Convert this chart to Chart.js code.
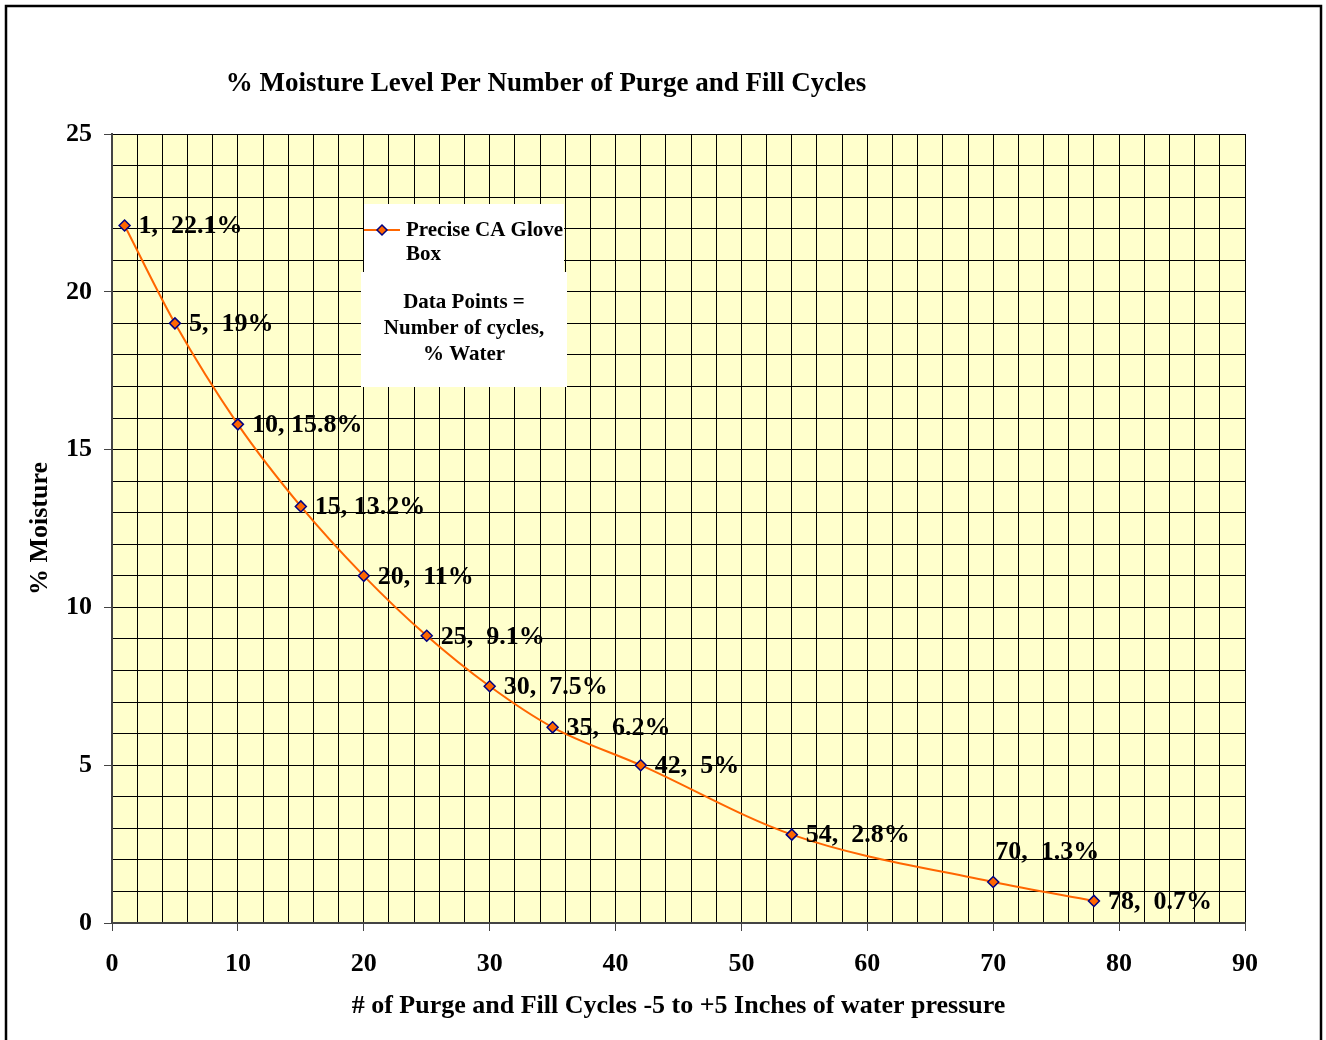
<!DOCTYPE html>
<html>
<head>
<meta charset="utf-8">
<script src="https://cdn.jsdelivr.net/npm/chart.js@4.4.1/dist/chart.umd.min.js"></script>
<style>
  html, body { margin: 0; padding: 0; background: #fff; }
  #wrap { width: 1326px; height: 1040px; }
</style>
</head>
<body>
<div id="wrap"><canvas id="moistureChart" width="1326" height="1040"></canvas></div>
<script>
// Chart data
const cycles = [1, 5, 10, 15, 20, 25, 30, 35, 42, 54, 70, 78];
const moisture = [22.1, 19, 15.8, 13.2, 11, 9.1, 7.5, 6.2, 5, 2.8, 1.3, 0.7];
const pointLabels = ['1,  22.1%', '5,  19%', '10, 15.8%', '15, 13.2%', '20,  11%', '25,  9.1%',
  '30,  7.5%', '35,  6.2%', '42,  5%', '54,  2.8%', '70,  1.3%', '78,  0.7%'];
const xTicks = [0, 10, 20, 30, 40, 50, 60, 70, 80, 90];
const yTicks = [0, 5, 10, 15, 20, 25];

const seriesName = 'Precise CA Glove Box';
const noteLines = ['Data Points =', 'Number of cycles,', '% Water'];

const serif = '"Liberation Serif", "Times New Roman", serif';
const orange = '#FF6600';
const navy = '#000080';

// labels that sit above the point instead of to the right
const labelsAbove = [10];

// frame, plot background, titles, legend and note box
const decorPlugin = {
  id: 'decor',
  beforeDraw(chart) {
    const c = chart.ctx;
    const a = chart.chartArea;
    c.save();
    c.fillStyle = '#fff';
    c.fillRect(0, 0, chart.width, chart.height);
    c.strokeStyle = '#000';
    c.lineWidth = 2.5;
    c.strokeRect(6, 6, 1315, 1060);
    c.fillStyle = '#FFFFCC';
    c.fillRect(a.left, a.top, a.right - a.left, a.bottom - a.top);
    c.restore();
  },
  afterDraw(chart) {
    const c = chart.ctx;
    const a = chart.chartArea;
    c.save();
    c.fillStyle = '#000';
    c.textAlign = 'center';
    c.textBaseline = 'middle';
    c.font = 'bold 27px ' + serif;
    c.fillText('% Moisture Level Per Number of Purge and Fill Cycles', 546, 84);
    c.font = 'bold 26px ' + serif;
    c.fillText('# of Purge and Fill Cycles -5 to +5 Inches of water pressure', (a.left + a.right) / 2, 1006);
    c.translate(40, (a.top + a.bottom) / 2);
    c.rotate(-Math.PI / 2);
    c.fillText('% Moisture', 0, 0);
    c.restore();

    // legend box
    c.save();
    c.fillStyle = '#fff';
    c.fillRect(364, 204, 200, 68);
    c.fillRect(361, 272, 206, 115);
    c.strokeStyle = orange;
    c.lineWidth = 2;
    c.beginPath();
    c.moveTo(364, 230);
    c.lineTo(400, 230);
    c.stroke();
    c.fillStyle = orange;
    c.strokeStyle = navy;
    c.lineWidth = 1.5;
    c.beginPath();
    c.moveTo(382, 225); c.lineTo(387, 230); c.lineTo(382, 235); c.lineTo(377, 230);
    c.closePath();
    c.fill(); c.stroke();
    c.fillStyle = '#000';
    c.font = 'bold 21px ' + serif;
    c.textAlign = 'left';
    c.textBaseline = 'middle';
    const words = seriesName.split(' ');
    c.fillText(words.slice(0, 3).join(' '), 406, 231);
    c.fillText(words.slice(3).join(' '), 406, 255);
    c.textAlign = 'center';
    noteLines.forEach((line, i) => c.fillText(line, 464, 303 + i * 26));
    c.restore();
  }
};

// "cycles, %" labels next to each point
const pointLabelPlugin = {
  id: 'pointLabels',
  afterDatasetsDraw(chart) {
    const c = chart.ctx;
    const meta = chart.getDatasetMeta(0);
    c.save();
    c.fillStyle = '#000';
    c.font = 'bold 26px ' + serif;
    c.textAlign = 'left';
    c.textBaseline = 'middle';
    meta.data.forEach((pt, i) => {
      if (labelsAbove.includes(i)) {
        c.fillText(pointLabels[i], pt.x + 2, pt.y - 30);
      } else {
        c.fillText(pointLabels[i], pt.x + 14, pt.y + 1);
      }
    });
    c.restore();
  }
};

const majorTick = (step) => (ctx) => (ctx.tick && ctx.tick.value % step === 0) ? '#444' : 'rgba(0,0,0,0)';

new Chart(document.getElementById('moistureChart'), {
  type: 'line',
  data: {
    datasets: [{
      label: seriesName,
      data: cycles.map((x, i) => ({ x: x, y: moisture[i] })),
      borderColor: orange,
      borderWidth: 2,
      cubicInterpolationMode: 'monotone',
      pointStyle: 'rectRot',
      pointRadius: 5.5,
      pointHoverRadius: 5.5,
      pointBackgroundColor: orange,
      pointBorderColor: navy,
      pointBorderWidth: 1.5,
      fill: false
    }]
  },
  options: {
    responsive: false,
    animation: false,
    layout: { padding: { left: 0, top: 134, right: 81, bottom: 0 } },
    plugins: {
      legend: { display: false },
      title: { display: false },
      tooltip: { enabled: false }
    },
    scales: {
      x: {
        type: 'linear',
        min: xTicks[0],
        max: xTicks[xTicks.length - 1],
        afterFit(scale) { scale.height = 117; },
        ticks: {
          stepSize: 2,
          autoSkip: false,
          maxRotation: 0,
          padding: 18,
          color: '#000',
          font: { family: serif, size: 26, weight: 'bold' },
          callback: (v) => xTicks.includes(v) ? String(v) : ''
        },
        grid: {
          color: '#000',
          lineWidth: 1,
          tickLength: 8,
          tickColor: majorTick(10)
        },
        border: { color: '#444', width: 2 }
      },
      y: {
        type: 'linear',
        min: yTicks[0],
        max: yTicks[yTicks.length - 1],
        afterFit(scale) { scale.width = 112; },
        ticks: {
          stepSize: 1,
          autoSkip: false,
          padding: 12,
          color: '#000',
          font: { family: serif, size: 26, weight: 'bold' },
          callback: (v) => yTicks.includes(v) ? String(v) : ''
        },
        grid: {
          color: '#000',
          lineWidth: 1,
          tickLength: 8,
          tickColor: majorTick(5)
        },
        border: { color: '#444', width: 2 }
      }
    }
  },
  plugins: [decorPlugin, pointLabelPlugin]
});
</script>
</body>
</html>
